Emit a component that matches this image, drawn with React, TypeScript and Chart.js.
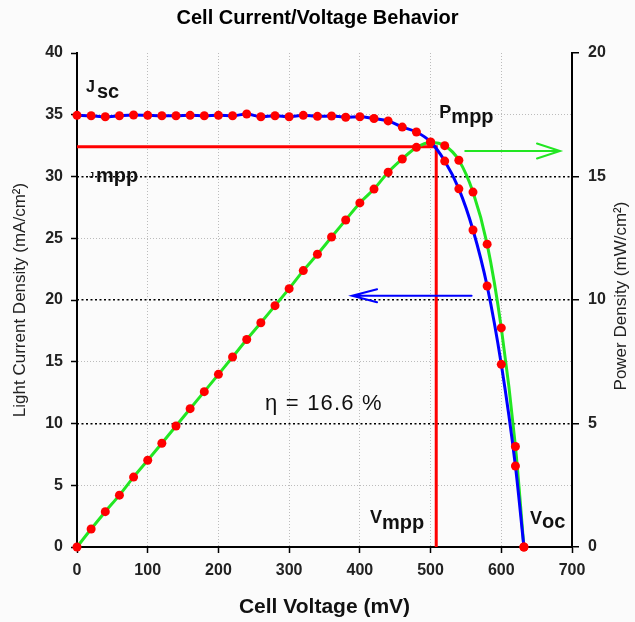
import React, { useEffect, useRef } from 'react';
import { Chart, registerables } from 'chart.js';

Chart.register(...registerables);

// ---------- data ----------
const voltages = [
  0, 20, 40, 60, 80, 100, 120, 140, 160, 180, 200, 220, 240, 260, 280, 300,
  320, 340, 360, 380, 400, 420, 440, 460, 480, 500, 520, 540, 560, 580, 600, 620, 632,
];
const currentDensity = [
  34.95, 34.92, 34.84, 34.92, 34.98, 34.95, 34.92, 34.92, 34.95, 34.92, 34.95, 34.92,
  35.06, 34.84, 34.92, 34.84, 34.95, 34.87, 34.9, 34.8, 34.84, 34.7, 34.5, 34.0, 33.6,
  32.8, 31.25, 29.0, 25.67, 21.13, 14.79, 6.56, 0,
];
const powerDensity = [
  0, 0.73, 1.43, 2.1, 2.83, 3.51, 4.2, 4.9, 5.6, 6.29, 6.99, 7.69, 8.4, 9.08, 9.77,
  10.46, 11.19, 11.85, 12.55, 13.24, 13.93, 14.49, 15.17, 15.71, 16.18, 16.38, 16.25,
  15.66, 14.37, 12.26, 8.87, 4.07, 0,
];
const mppVoltage = [0, 508, 508];
const mppCurrent = [32.4, 32.4, 0];
const xTicks = [0, 100, 200, 300, 400, 500, 600, 700];
const leftTicks = [0, 5, 10, 15, 20, 25, 30, 35, 40];
const rightTicks = [0, 5, 10, 15, 20];

const FONT = '"Liberation Sans", Arial, sans-serif';
const TRANSPARENT = 'rgba(0,0,0,0)';
const LIGHT_GRID = '#bcbcbc';

const annotationPlugin = {
  id: 'annotations',
  beforeDraw(chart: any) {
    const { ctx, width, height } = chart;
    ctx.save();
    ctx.fillStyle = '#fbfbfb';
    ctx.fillRect(0, 0, width, height);
    ctx.restore();
  },
  afterDatasetsDraw(chart: any) {
    const { ctx, scales } = chart;
    const px = (v: number) => scales.x.getPixelForValue(v);
    const py = (j: number) => scales.y.getPixelForValue(j);

    const arrow = (x0: number, x1: number, y: number, color: string, headLen: number, headHalf: number) => {
      ctx.save();
      ctx.strokeStyle = color;
      ctx.lineWidth = 2;
      ctx.lineCap = 'round';
      ctx.beginPath();
      ctx.moveTo(x0, y);
      ctx.lineTo(x1, y);
      const dir = x1 > x0 ? -1 : 1;
      ctx.moveTo(x1 + dir * headLen, y - headHalf);
      ctx.lineTo(x1, y);
      ctx.lineTo(x1 + dir * headLen, y + headHalf);
      ctx.stroke();
      ctx.restore();
    };
    arrow(px(549), px(683), py(32.06), '#22e622', 23, 7.5);
    arrow(px(558), px(389), py(20.35), '#0000ff', 25, 6.5);

    const label = (v: number, j: number, main: string, sub: string, mainFont: string, subFont: string, dy: number, gap: number, spacing = '0px') => {
      const x = px(v);
      const y = py(j);
      ctx.save();
      ctx.fillStyle = '#111';
      ctx.textAlign = 'left';
      ctx.textBaseline = 'alphabetic';
      (ctx as any).letterSpacing = spacing;
      ctx.font = mainFont;
      ctx.fillText(main, x, y);
      const w = ctx.measureText(main).width;
      if (sub) {
        ctx.font = subFont;
        ctx.fillText(sub, x + w + gap, y + dy);
      }
      ctx.restore();
    };
    label(12.7, 36.87, 'J', 'sc', `bold 16px ${FONT}`, `bold 20px ${FONT}`, 6.5, 2);
    label(17, 29.9, 'J', 'mpp', `bold 9px ${FONT}`, `bold 20px ${FONT}`, 4, 2);
    label(512.4, 34.71, 'P', 'mpp', `bold 18px ${FONT}`, `bold 20px ${FONT}`, 4.2, 0);
    label(414.4, 1.92, 'V', 'mpp', `bold 18px ${FONT}`, `bold 20px ${FONT}`, 5.7, 0);
    label(640.6, 1.84, 'V', 'oc', `bold 18px ${FONT}`, `bold 20px ${FONT}`, 4, 0);
    label(265.9, 11.09, 'η = 16.6 %', '', `22px ${FONT}`, '', 0, 0, '1.2px');
  },
  afterDraw(chart: any) {
    const { ctx } = chart;
    ctx.save();
    ctx.translate(621, 296);
    ctx.rotate(-Math.PI / 2);
    ctx.fillStyle = '#222';
    ctx.font = `17px ${FONT}`;
    ctx.textAlign = 'center';
    ctx.textBaseline = 'middle';
    ctx.fillText('Power Density (mW/cm²)', 0, 0);
    ctx.restore();
  },
};

export default function App() {
  const canvasRef = useRef<HTMLCanvasElement | null>(null);

  useEffect(() => {
    if (!canvasRef.current) return;
    const curPts = voltages.map((v, i) => ({ x: v, y: currentDensity[i] }));
    const powPts = voltages.map((v, i) => ({ x: v, y: powerDensity[i] }));
    const mppPts = mppVoltage.map((v, i) => ({ x: v, y: mppCurrent[i] }));

    const marker = {
      showLine: false,
      pointRadius: 4.5,
      pointHoverRadius: 4.5,
      pointBackgroundColor: '#ff0000',
      pointBorderColor: '#ff0000',
      pointBorderWidth: 0,
      clip: false,
      order: 0,
    };
    const curve = {
      showLine: true,
      borderWidth: 3,
      pointRadius: 0,
      pointHoverRadius: 0,
      cubicInterpolationMode: 'monotone' as const,
      tension: 0.4,
      fill: false,
      order: 2,
    };

    const chart = new Chart(canvasRef.current, {
      type: 'scatter',
      data: {
        datasets: [
          { label: 'J points', data: curPts, yAxisID: 'y', ...marker },
          { label: 'P points', data: powPts, yAxisID: 'y1', ...marker },
          { label: 'J curve', data: curPts, yAxisID: 'y', borderColor: '#0000ff', ...curve },
          { label: 'P curve', data: powPts, yAxisID: 'y1', borderColor: '#22e622', ...curve },
          {
            label: 'MPP', data: mppPts, yAxisID: 'y', showLine: true, borderColor: '#ff0000',
            borderWidth: 3, pointRadius: 0, tension: 0, order: 3,
          },
        ] as any,
      },
      options: {
        animation: false,
        responsive: false,
        layout: { padding: 0 },
        events: [],
        plugins: {
          legend: { display: false },
          tooltip: { enabled: false },
          title: {
            display: true,
            text: 'Cell Current/Voltage Behavior',
            color: '#000',
            font: { family: FONT, size: 20, weight: 'bold' },
            padding: { top: 6, bottom: 23 },
          },
        },
        scales: {
          x: {
            type: 'linear',
            min: 0,
            max: 700,
            afterBuildTicks: (s: any) => { s.ticks = xTicks.map((v) => ({ value: v })); },
            afterFit: (s: any) => { s.height = 75; },
            grid: {
              color: (c: any) => (c.tick && c.tick.value > 0 && c.tick.value < 700 ? LIGHT_GRID : TRANSPARENT),
              lineWidth: 1,
              tickLength: 6,
              tickColor: '#000',
              tickWidth: 1.5,
              tickBorderDash: [],
            },
            border: { display: true, color: '#000', width: 2, dash: [1, 2] },
            ticks: {
              color: '#222',
              font: { family: FONT, size: 16, weight: 'bold' },
              padding: 8,
              maxRotation: 0,
            },
            title: {
              display: true,
              text: 'Cell Voltage (mV)',
              color: '#111',
              font: { family: FONT, size: 21, weight: 'bold' },
              padding: { top: 0, bottom: 1.9 },
            },
          },
          y: {
            type: 'linear',
            position: 'left',
            min: 0,
            max: 40,
            afterBuildTicks: (s: any) => { s.ticks = leftTicks.map((v) => ({ value: v })); },
            afterFit: (s: any) => { s.width = 77; },
            grid: {
              color: (c: any) => (c.tick && [5, 15, 25, 35].includes(c.tick.value) ? LIGHT_GRID : TRANSPARENT),
              lineWidth: 1,
              tickLength: 6,
              tickColor: '#000',
              tickWidth: 1.5,
              tickBorderDash: [],
            },
            border: { display: true, color: '#000', width: 2, dash: [1, 2] },
            ticks: {
              color: '#222',
              font: { family: FONT, size: 16, weight: 'bold' },
              padding: 8,
            },
            title: {
              display: true,
              text: 'Light Current Density (mA/cm²)',
              color: '#222',
              font: { family: FONT, size: 17 },
              padding: { top: 10.6, bottom: 0 },
            },
          },
          y1: {
            type: 'linear',
            position: 'right',
            min: 0,
            max: 20,
            afterBuildTicks: (s: any) => { s.ticks = rightTicks.map((v) => ({ value: v })); },
            afterFit: (s: any) => { s.width = 63; },
            grid: {
              color: (c: any) => (c.tick && [5, 10, 15].includes(c.tick.value) ? '#000' : TRANSPARENT),
              lineWidth: 1.5,
              tickLength: 7,
              tickColor: '#000',
              tickWidth: 1.5,
              tickBorderDash: [],
            },
            border: { display: true, color: '#000', width: 2, dash: [2, 2.5] },
            ticks: {
              color: '#222',
              font: { family: FONT, size: 16, weight: 'bold' },
              padding: 9,
            },
          },
        },
      } as any,
      plugins: [annotationPlugin],
    });
    return () => chart.destroy();
  }, []);

  return (
    <div style={{ position: 'fixed', left: 0, top: 0, width: 635, height: 622, overflow: 'hidden', background: '#fff' }}>
      <canvas ref={canvasRef} width={635} height={622} style={{ display: 'block', width: 635, height: 622 }} />
    </div>
  );
}
